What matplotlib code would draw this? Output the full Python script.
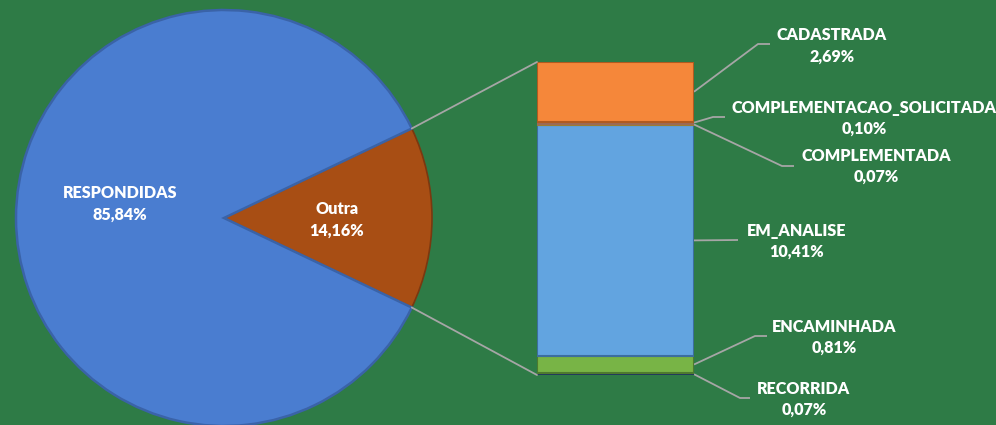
import matplotlib
matplotlib.use("Agg")
import matplotlib.pyplot as plt
from matplotlib.patches import ConnectionPatch
import numpy as np

plt.rcParams['font.family'] = ['Lato', 'DejaVu Sans']

# ---- data ----
pie_labels = ["Outra", "RESPONDIDAS"]
pie_values = [14.16, 85.84]
pie_colors = ["#A84E14", "#4A7DD0"]

bar_labels = ["RECORRIDA", "ENCAMINHADA", "EM_ANALISE", "COMPLEMENTADA",
              "COMPLEMENTACAO_SOLICITADA", "CADASTRADA"]
bar_values = [0.07, 0.81, 10.41, 0.07, 0.10, 2.69]
bar_colors = ["#34558F", "#78B446", "#62A4E0", "#C9A646", "#C8927A", "#F5873A"]
bar_edges = ["#22385E", "#4E7A2E", "#3C6E9E", "#9C7E30", "#9C6A55", "#B05A20"]

# ---- layout (pixels) ----
W, H = 996, 425
BG = "#2E7B46"
LINE = "#A6A6A6"
FS = 11.6

fig = plt.figure(figsize=(W / 100, H / 100), dpi=100, facecolor=BG)
ax = fig.add_axes([0, 0, 1, 1])
ax.set_facecolor(BG)

pie_center = (224, 218)
pie_radius = 208
ang = 360 * pie_values[0] / 100
wedges, _ = ax.pie(pie_values, colors=pie_colors, startangle=-ang / 2,
                   center=pie_center, radius=pie_radius,
                   wedgeprops=dict(linewidth=1.8, edgecolor="#3A63A8"))
wedges[0].set_edgecolor("#7A3810")
wedges[0].set_linewidth(1.2)
ax.set_xlim(0, W)
ax.set_ylim(H, 0)
ax.set_aspect("equal")
ax.axis("off")

# pie labels
pie_label_pos = {"RESPONDIDAS": (120, 204), "Outra": (337, 220)}
for lab, val in zip(pie_labels, pie_values):
    x, y = pie_label_pos[lab]
    ax.text(x, y, f"{lab}\n{val:.2f}%".replace(".", ","), ha="center", va="center",
            color="white", fontsize=FS, fontweight="heavy", linespacing=1.4)

# ---- bar ----
bx0, bx1, by0, by1 = 537, 694, 62, 375
axb = fig.add_axes([bx0 / W, (H - by1) / H, (bx1 - bx0) / W, (by1 - by0) / H])
axb.set_facecolor("none")
total = sum(bar_values)
bottoms = np.concatenate([[0], np.cumsum(bar_values)[:-1]])
axb.bar(0, bar_values, bottom=bottoms, width=1, color=bar_colors,
        edgecolor=bar_edges, linewidth=1.5)
axb.set_xlim(-0.5, 0.5)
axb.set_ylim(0, total)
axb.axis("off")

# connector lines between pie wedge and bar
t1, t2 = np.radians(wedges[0].theta1), np.radians(wedges[0].theta2)
for th, yb in ((t1, total), (t2, 0)):
    p = (pie_center[0] + pie_radius * np.cos(th), pie_center[1] + pie_radius * np.sin(th))
    con = ConnectionPatch(xyA=p, coordsA=ax.transData, xyB=(-0.5, yb), coordsB=axb.transData,
                          color=LINE, linewidth=1.3)
    fig.add_artist(con)

# bar labels with leader lines
label_pos = {
    "CADASTRADA": (832, 46),
    "COMPLEMENTACAO_SOLICITADA": (864, 118.5),
    "COMPLEMENTADA": (876, 166.5),
    "EM_ANALISE": (797, 241.5),
    "ENCAMINHADA": (834, 337.5),
    "RECORRIDA": (804, 399.5),
}
elbows = {
    "CADASTRADA": [(758, 44), (770, 44)],
    "COMPLEMENTACAO_SOLICITADA": [(713, 117), (725, 117)],
    "COMPLEMENTADA": [(782, 166), (794, 166)],
    "EM_ANALISE": [(738, 240)],
    "ENCAMINHADA": [(755, 336), (767, 336)],
    "RECORRIDA": [(740, 398), (750, 398)],
}
inv = ax.transData.inverted()
for lab, val, b in zip(bar_labels, bar_values, bottoms):
    start = inv.transform(axb.transData.transform((0.5, b + val / 2)))
    pts = [tuple(start)] + elbows[lab]
    xs, ys = zip(*pts)
    ax.plot(xs, ys, color=LINE, linewidth=1.3, solid_capstyle="butt")
    x, y = label_pos[lab]
    ax.text(x, y, f"{lab}\n{val:.2f}%".replace(".", ","), ha="center", va="center",
            color="white", fontsize=FS, fontweight="heavy", linespacing=1.4)

fig.savefig("out.png", dpi=100, facecolor=BG)
